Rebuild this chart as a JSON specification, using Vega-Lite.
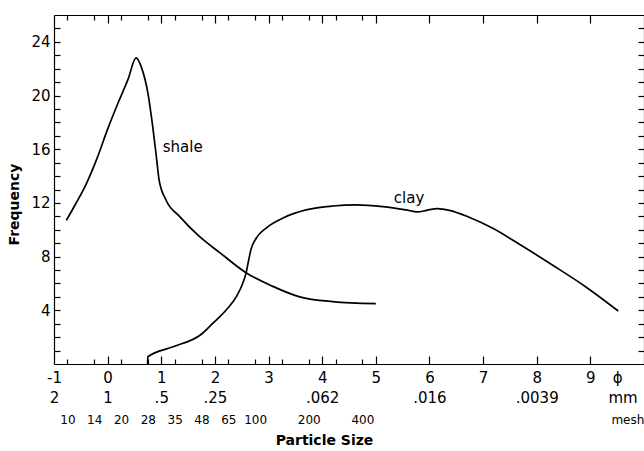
{
  "$schema": "https://vega.github.io/schema/vega-lite/v6.json",
  "width": 590,
  "height": 349,
  "autosize": {"type": "none"},
  "padding": {"left": 54, "top": 15, "right": 0, "bottom": 87},
  "background": "white",
  "config": {
    "view": {"stroke": null},
    "font": "DejaVu Sans",
    "axis": {"grid": false, "domainColor": "black", "tickColor": "black", "labelColor": "black", "titleColor": "black", "labelFlush": false, "labelOverlap": false, "labelBound": false, "domainWidth": 1.2, "tickWidth": 1.2}
  },
  "datasets": {
    "curves": [
      {"series": "shale", "phi": -0.77, "freq": 10.7},
      {"series": "shale", "phi": -0.6, "freq": 11.9},
      {"series": "shale", "phi": -0.4, "freq": 13.4},
      {"series": "shale", "phi": -0.2, "freq": 15.3},
      {"series": "shale", "phi": 0.0, "freq": 17.5},
      {"series": "shale", "phi": 0.2, "freq": 19.5},
      {"series": "shale", "phi": 0.38, "freq": 21.2},
      {"series": "shale", "phi": 0.53, "freq": 22.8},
      {"series": "shale", "phi": 0.63, "freq": 22.1},
      {"series": "shale", "phi": 0.75, "freq": 20.2},
      {"series": "shale", "phi": 0.84, "freq": 17.7},
      {"series": "shale", "phi": 0.91, "freq": 15.4},
      {"series": "shale", "phi": 0.96, "freq": 13.7},
      {"series": "shale", "phi": 1.09, "freq": 12.2},
      {"series": "shale", "phi": 1.34, "freq": 11.0},
      {"series": "shale", "phi": 1.71, "freq": 9.5},
      {"series": "shale", "phi": 2.09, "freq": 8.3},
      {"series": "shale", "phi": 2.58, "freq": 6.8},
      {"series": "shale", "phi": 3.07, "freq": 5.8},
      {"series": "shale", "phi": 3.58, "freq": 5.0},
      {"series": "shale", "phi": 4.19, "freq": 4.65},
      {"series": "shale", "phi": 5.0, "freq": 4.5},
      {"series": "clay", "phi": 0.745, "freq": 0},
      {"series": "clay", "phi": 0.75, "freq": 0.54},
      {"series": "clay", "phi": 1.22, "freq": 1.28},
      {"series": "clay", "phi": 1.74, "freq": 2.2},
      {"series": "clay", "phi": 1.96, "freq": 3.03},
      {"series": "clay", "phi": 2.21, "freq": 4.02},
      {"series": "clay", "phi": 2.4, "freq": 5.02},
      {"series": "clay", "phi": 2.52, "freq": 6.02},
      {"series": "clay", "phi": 2.58, "freq": 6.76},
      {"series": "clay", "phi": 2.63, "freq": 7.75},
      {"series": "clay", "phi": 2.67, "freq": 8.5},
      {"series": "clay", "phi": 2.77, "freq": 9.37},
      {"series": "clay", "phi": 2.95, "freq": 10.11},
      {"series": "clay", "phi": 3.26, "freq": 10.86},
      {"series": "clay", "phi": 3.7, "freq": 11.48},
      {"series": "clay", "phi": 4.2, "freq": 11.77},
      {"series": "clay", "phi": 4.63, "freq": 11.85},
      {"series": "clay", "phi": 5.13, "freq": 11.72},
      {"series": "clay", "phi": 5.56, "freq": 11.48},
      {"series": "clay", "phi": 5.78, "freq": 11.33},
      {"series": "clay", "phi": 5.95, "freq": 11.45},
      {"series": "clay", "phi": 6.15, "freq": 11.57},
      {"series": "clay", "phi": 6.37, "freq": 11.45},
      {"series": "clay", "phi": 6.74, "freq": 10.93},
      {"series": "clay", "phi": 7.18, "freq": 10.11},
      {"series": "clay", "phi": 7.67, "freq": 8.94},
      {"series": "clay", "phi": 8.29, "freq": 7.38},
      {"series": "clay", "phi": 8.91, "freq": 5.76},
      {"series": "clay", "phi": 9.52, "freq": 3.95}
    ],
    "labels": [
      {"name": "shale", "phi": 1.4, "freq": 16.2},
      {"name": "clay", "phi": 5.62, "freq": 12.4}
    ]
  },
  "resolve": {"axis": {"x": "independent", "y": "independent"}},
  "layer": [
    {
      "data": {"name": "curves"},
      "transform": [{"filter": "datum.series == 'shale'"}],
      "mark": {"type": "line", "interpolate": "monotone", "color": "black", "strokeWidth": 1.7},
      "encoding": {
        "x": {"field": "phi", "type": "quantitative", "scale": {"domain": [-1, 10], "nice": false, "zero": false},
          "axis": {"orient": "bottom", "values": [-1, 0, 1, 2, 3, 4, 5, 6, 7, 8, 9, 9.5],
            "labelExpr": "datum.value > 9.2 ? 'ϕ' : '' + datum.value",
            "ticks": false, "labelFontSize": 15, "labelPadding": 6, "title": null, "domain": true}},
        "y": {"field": "freq", "type": "quantitative", "scale": {"domain": [0, 26], "nice": false, "zero": true},
          "axis": {"orient": "left", "values": [4, 8, 12, 16, 20, 24],
            "ticks": false, "labelFontSize": 15, "labelPadding": 4, "domain": true,
            "title": "Frequency", "titleFontSize": 14, "titleFontWeight": "bold", "titleX": -33, "titleY": 189}}
      }
    },
    {
      "data": {"name": "curves"},
      "transform": [{"filter": "datum.series == 'clay'"}],
      "mark": {"type": "line", "interpolate": "monotone", "color": "black", "strokeWidth": 1.7},
      "encoding": {
        "x": {"field": "phi", "type": "quantitative", "scale": {"domain": [-1, 10], "nice": false, "zero": false},
          "axis": {"orient": "bottom", "values": [-1, 0, 1, 2, 4, 6, 8, 9.6], "ticks": false, "domain": false,
            "labelExpr": "datum.value == -1 ? '2' : datum.value == 0 ? '1' : datum.value == 1 ? '.5' : datum.value == 2 ? '.25' : datum.value == 4 ? '.062' : datum.value == 6 ? '.016' : datum.value == 8 ? '.0039' : 'mm'",
            "labelFontSize": 15, "labelPadding": 26, "title": null}},
        "y": {"field": "freq", "type": "quantitative", "scale": {"domain": [0, 26], "nice": false, "zero": true},
          "axis": {"orient": "right", "offset": -590, "values": [1, 2, 3, 4, 5, 6, 7, 8, 9, 10, 11, 12, 13, 14, 15, 16, 17, 18, 19, 20, 21, 22, 23, 24, 25],
            "tickSize": 6, "labels": false, "title": null, "domain": false}}
      }
    },
    {
      "data": {"name": "labels"},
      "transform": [{"filter": "datum.name == 'shale'"}],
      "mark": {"type": "text", "fontSize": 15, "color": "black", "align": "center", "baseline": "middle"},
      "encoding": {
        "text": {"field": "name"},
        "x": {"field": "phi", "type": "quantitative", "scale": {"domain": [-1, 10], "nice": false, "zero": false},
          "axis": {"orient": "bottom", "values": [-0.75, -0.25, 0.25, 0.75, 1.25, 1.75, 2.25, 2.75, 3.75, 4.75, 9.69],
            "ticks": false,
            "labelExpr": "datum.value > 9 ? 'mesh' : ['10','14','20','28','35','48','65','100','','200','','400'][round((datum.value + 0.75) * 2)]",
            "labelFontSize": 12, "labelPadding": 50, "domain": false,
            "title": "Particle Size", "titleFontSize": 14, "titleFontWeight": "bold", "titleX": 270, "titleY": 69}},
        "y": {"field": "freq", "type": "quantitative", "scale": {"domain": [0, 26], "nice": false, "zero": true},
          "axis": {"orient": "left", "offset": -590, "values": [1, 2, 3, 4, 5, 6, 7, 8, 9, 10, 11, 12, 13, 14, 15, 16, 17, 18, 19, 20, 21, 22, 23, 24, 25],
            "tickSize": 6, "labels": false, "title": null, "domain": true}}
      }
    },
    {
      "data": {"name": "labels"},
      "transform": [{"filter": "datum.name == 'clay'"}],
      "mark": {"type": "text", "fontSize": 15, "color": "black", "align": "center", "baseline": "middle"},
      "encoding": {
        "text": {"field": "name"},
        "x": {"field": "phi", "type": "quantitative", "scale": {"domain": [-1, 10], "nice": false, "zero": false},
          "axis": {"orient": "top", "offset": -349, "values": [0, 1, 2, 3, 4, 5, 6, 7, 8, 9, -0.75, -0.25, 0.25, 0.75, 1.25, 1.75, 2.25, 2.75, 3.25, 3.75, 4.25, 4.75],
            "tickSize": {"condition": {"test": "datum.value % 1 == 0", "value": 8}, "value": 5},
            "labels": false, "title": null, "domain": false}},
        "y": {"field": "freq", "type": "quantitative", "scale": {"domain": [0, 26], "nice": false, "zero": true}, "axis": null}
      }
    },
    {
      "data": {"name": "labels"},
      "mark": {"type": "point", "opacity": 0},
      "encoding": {
        "x": {"field": "phi", "type": "quantitative", "scale": {"domain": [-1, 10], "nice": false, "zero": false},
          "axis": {"orient": "bottom", "offset": -349, "values": [0, 1, 2, 3, 4, 5, 6, 7, 8, 9, -0.75, -0.25, 0.25, 0.75, 1.25, 1.75, 2.25, 2.75, 3.25, 3.75, 4.25, 4.75],
            "tickSize": {"condition": {"test": "datum.value % 1 == 0", "value": 8}, "value": 5},
            "labels": false, "title": null, "domain": true}},
        "y": {"field": "freq", "type": "quantitative", "scale": {"domain": [0, 26], "nice": false, "zero": true}, "axis": null}
      }
    }
  ]
}
